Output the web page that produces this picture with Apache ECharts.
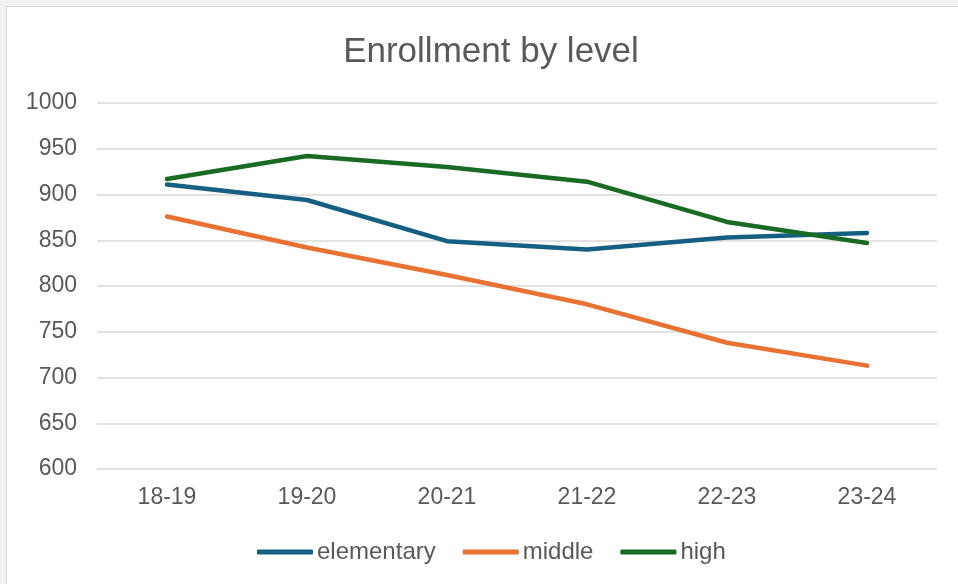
<!DOCTYPE html>
<html lang="en">
  <head>
    <meta charset="UTF-8" />
    <title>Enrollment by level</title>
    <script src="https://cdn.jsdelivr.net/npm/echarts@6/dist/echarts.min.js"></script>
    <style>
      html, body { margin: 0; padding: 0; background: #f2f2f2; }
      #frame {
        position: absolute; left: 6px; top: 6px; width: 960px; height: 590px;
        background: #fff; border: 1px solid #d9d9d9; box-sizing: border-box;
      }
      #chart { position: absolute; left: -7px; top: -7px; width: 958px; height: 584px; }
    </style>
  </head>
  <body>
    <div id="frame"><div id="chart"></div></div>
    <script>
      var categories = ['18-19', '19-20', '20-21', '21-22', '22-23', '23-24'];
      var elementary = [911, 894, 849, 840, 853, 858];
      var middle = [876, 842, 812, 780, 738, 713];
      var high = [917, 942, 930, 914, 870, 847];

      var textColor = '#595959';
      var fontName = 'Liberation Sans, Arial, sans-serif';

      var chart = echarts.init(document.getElementById('chart'));

      function lineSeries(name, color, data) {
        return {
          name: name,
          type: 'line',
          data: data,
          color: color,
          symbol: 'none',
          lineStyle: { width: 4.5, color: color, cap: 'round', join: 'round' }
        };
      }

      chart.setOption({
        animation: false,
        textStyle: { fontFamily: fontName, color: textColor },
        title: {
          text: 'Enrollment by level',
          left: 486,
          textAlign: 'center',
          top: 30,
          textStyle: { fontSize: 35, fontWeight: 'normal', color: textColor, fontFamily: fontName }
        },
        grid: { left: 97, right: 21, top: 103, bottom: 115 },
        legend: {
          bottom: 15,
          left: 252,
          itemWidth: 56,
          itemHeight: 5,
          itemGap: 27,
          icon: 'roundRect',
          selectedMode: false,
          textStyle: { fontSize: 24, color: textColor, padding: [0, 0, 0, -1] },
          data: ['elementary', 'middle', 'high']
        },
        xAxis: {
          type: 'category',
          data: categories,
          boundaryGap: true,
          axisLine: { show: false },
          axisTick: { show: false },
          axisLabel: { fontSize: 23, color: textColor, margin: 17 }
        },
        yAxis: {
          type: 'value',
          min: 600,
          max: 1000,
          interval: 50,
          axisLine: { show: false },
          axisTick: { show: false },
          axisLabel: {
            fontSize: 23,
            color: textColor,
            margin: 20,
            formatter: function (v) { return String(v); }
          },
          splitLine: { lineStyle: { color: '#d9d9d9', width: 1.5 } }
        },
        series: [
          lineSeries('elementary', '#156082', elementary),
          lineSeries('middle', '#E97132', middle),
          lineSeries('high', '#196B24', high)
        ]
      });
    </script>
  </body>
</html>
